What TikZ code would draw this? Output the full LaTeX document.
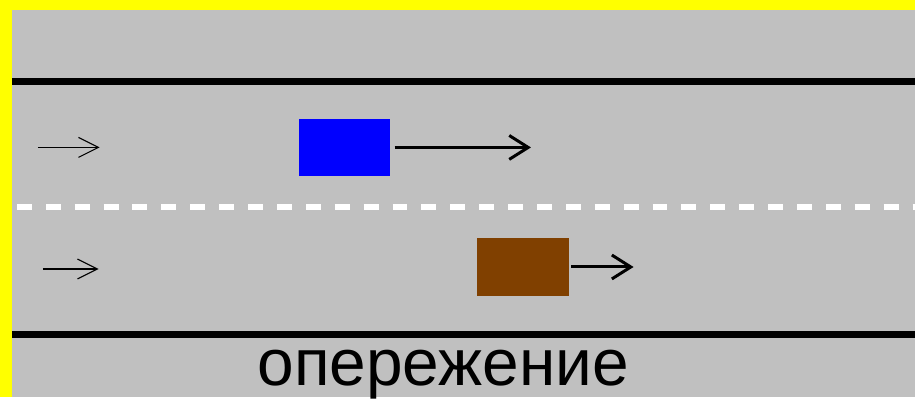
\documentclass[tikz,border=0pt]{standalone}
\usepackage{fontspec}
\setmainfont{Liberation Sans}
\usetikzlibrary{arrows.meta}
\definecolor{road}{RGB}{192,192,192}
\definecolor{rim}{RGB}{255,255,0}
\definecolor{carblue}{RGB}{0,0,255}
\definecolor{carbrown}{RGB}{128,64,0}
\tikzset{
	car/.style={draw=none, inner sep=0pt, minimum width=#1, minimum height=58pt},
	edge/.style={line width=7pt},
	lane/.style={white, line width=6pt, dash pattern=on 15pt off 14pt},
	hint/.style={line width=1.1pt, -{Straight Barb[length=20pt, width=20pt, line width=1.1pt]}},
	speed/.style={line width=3pt, -{Straight Barb[length=19pt, width=24pt, line width=3pt]}}
}
\begin{document}
\begin{tikzpicture}[x=1pt, y=1pt]
		%%%%% START %%%%%
		\fill[rim] (0, 0) rectangle (918, 399);
		\fill[road] (12, 0) rectangle (918, 389);
		
		\draw[edge] (12, 317) -- (918, 317);
		\draw[edge] (12, 63) -- (918, 63);
		\draw[lane] (17, 191) -- (918, 191);
		
		\coordinate (hintA) at (38, 251);
		\coordinate (hintA') at (100, 251);
		\draw[hint] (hintA) -- (hintA');
		\coordinate (hintB) at (43, 129);
		\coordinate (hintB') at (99, 129);
		\draw[hint] (hintB) -- (hintB');
		
		\node[car=91pt, fill=carblue] (blue) at (345.5, 251) {};
		\coordinate (blueTo) at (533, 251);
		\draw[speed] ([xshift=5pt]blue.east) -- (blueTo);
		
		\node[car=92pt, fill=carbrown] (brown) at (525, 131) {};
		\coordinate (brownTo) at (636, 131);
		\draw[speed] ([xshift=2pt]brown.east) -- (brownTo);
		
		\node[anchor=base, inner sep=0pt, font=\fontsize{66}{66}\selectfont] (title) at (445, 12) {опережение};
		%%%%% END %%%%%
	\end{tikzpicture}
\end{document}
